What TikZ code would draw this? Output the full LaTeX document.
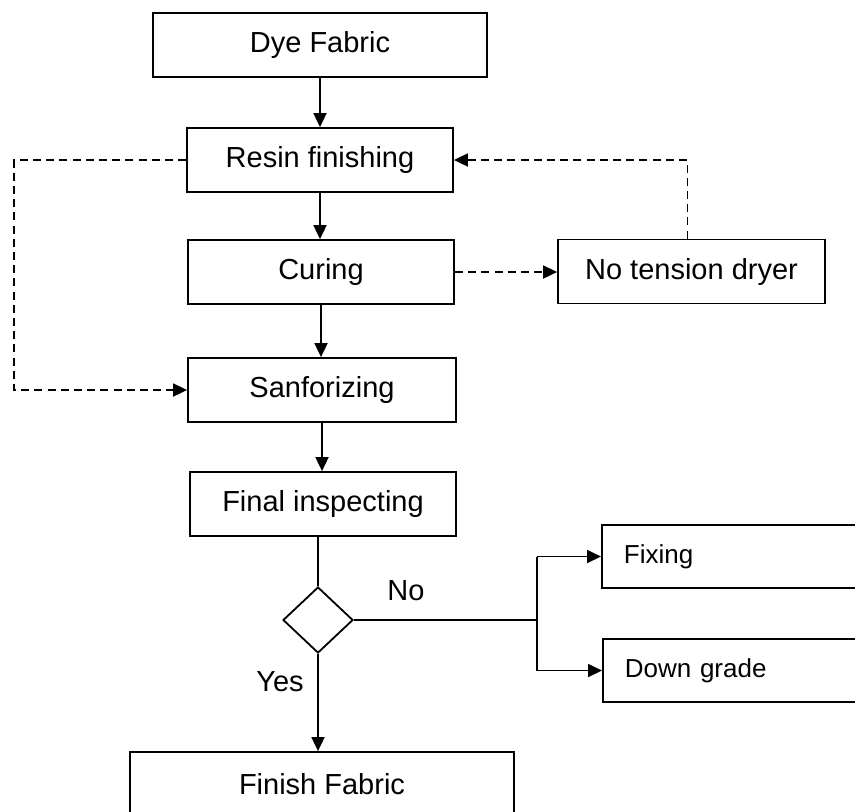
\documentclass[tikz,border=0pt]{standalone}
\usepackage{fontspec}
\setmainfont{Liberation Sans}
\usetikzlibrary{arrows.meta,shapes.geometric}
\begin{document}
\begin{tikzpicture}[x=0.5pt,y=-0.5pt,
  line width=0.9pt,
  every node/.style={font=\fontsize{14.5}{17}\selectfont},
  procbox/.style={draw, rectangle, line width=0.9pt, minimum height=32pt, inner sep=0pt},
  sidebox/.style={draw, rectangle, line width=0.9pt, minimum height=31.5pt, inner xsep=11pt,
    text width=118pt, align=left, font=\fontsize{13}{15}\selectfont},
  decision/.style={draw, diamond, line width=0.9pt, minimum width=35pt, minimum height=33pt, inner sep=0pt, aspect=1.06},
  flow/.style={-{Triangle[length=7pt,width=6.5pt]}},
  loop/.style={flow, dashed, dash pattern=on 4pt off 2.6pt},
  lbl/.style={inner sep=0pt}
]
\useasboundingbox (0,0) rectangle (855,811);
\clip (0,0) rectangle (855,811);

% main process column
\node[procbox, minimum width=167pt] (dye)   at (320,45)  {Dye Fabric};
\node[procbox, minimum width=133pt] (resin) at (320,160) {Resin finishing};
\node[procbox, minimum width=133pt] (cure)  at (321,272) {Curing};
\node[procbox, minimum width=134pt] (sanf)  at (322,390) {Sanforizing};
\node[procbox, minimum width=133pt] (final) at (323,504) {Final inspecting};
\node[decision] (dec) at (318,620) {};
\node[procbox, minimum width=192pt] (finish) at (322,784) {Finish Fabric};

% side process
\node[procbox, minimum width=133.5pt] (ntd) at (691.5,271.5) {No tension dryer};

% outcomes of a failed inspection
\node[sidebox, anchor=west] (fix) at (601,556.5) {Fixing};
\node[sidebox, anchor=west] (dg)  at (602,670.5) {Down grade};

% helper coordinates for routed connectors
\coordinate (lft) at (14,0);
\coordinate (jx)  at (537,0);

% solid flow
\draw[flow] (dye.south)   -- (dye.south |- resin.north);
\draw[flow] (resin.south) -- (resin.south |- cure.north);
\draw[flow] (cure.south |- cure.south)  -- (cure.south |- sanf.north);
\draw[flow] (sanf.south)  -- (sanf.south |- final.north);
\draw (final.south -| dec.north) -- (dec.north);
\draw[flow] (dec.south) -- (dec.south |- finish.north);

% branch on "No"
\draw (dec.east) -- (dec.east -| jx);
\draw (jx |- fix.west) -- (jx |- dg.west);
\draw[flow] (jx |- fix.west) -- (fix.west);
\draw[flow] (jx |- dg.west) -- (dg.west);

% dashed loops
\draw[loop] (resin.west) -- (resin.west -| lft) -- (lft |- sanf.west) -- (sanf.west);
\draw[loop] (cure.east) -- (cure.east -| ntd.west);
\draw[loop] ([xshift=-2pt]ntd.north) -- ([xshift=-2pt]ntd.north |- resin.east) -- (resin.east);

% decision labels
\node[lbl] (nolbl)  at (406,591) {No};
\node[lbl] (yeslbl) at (280,682) {Yes};
\end{tikzpicture}
\end{document}
